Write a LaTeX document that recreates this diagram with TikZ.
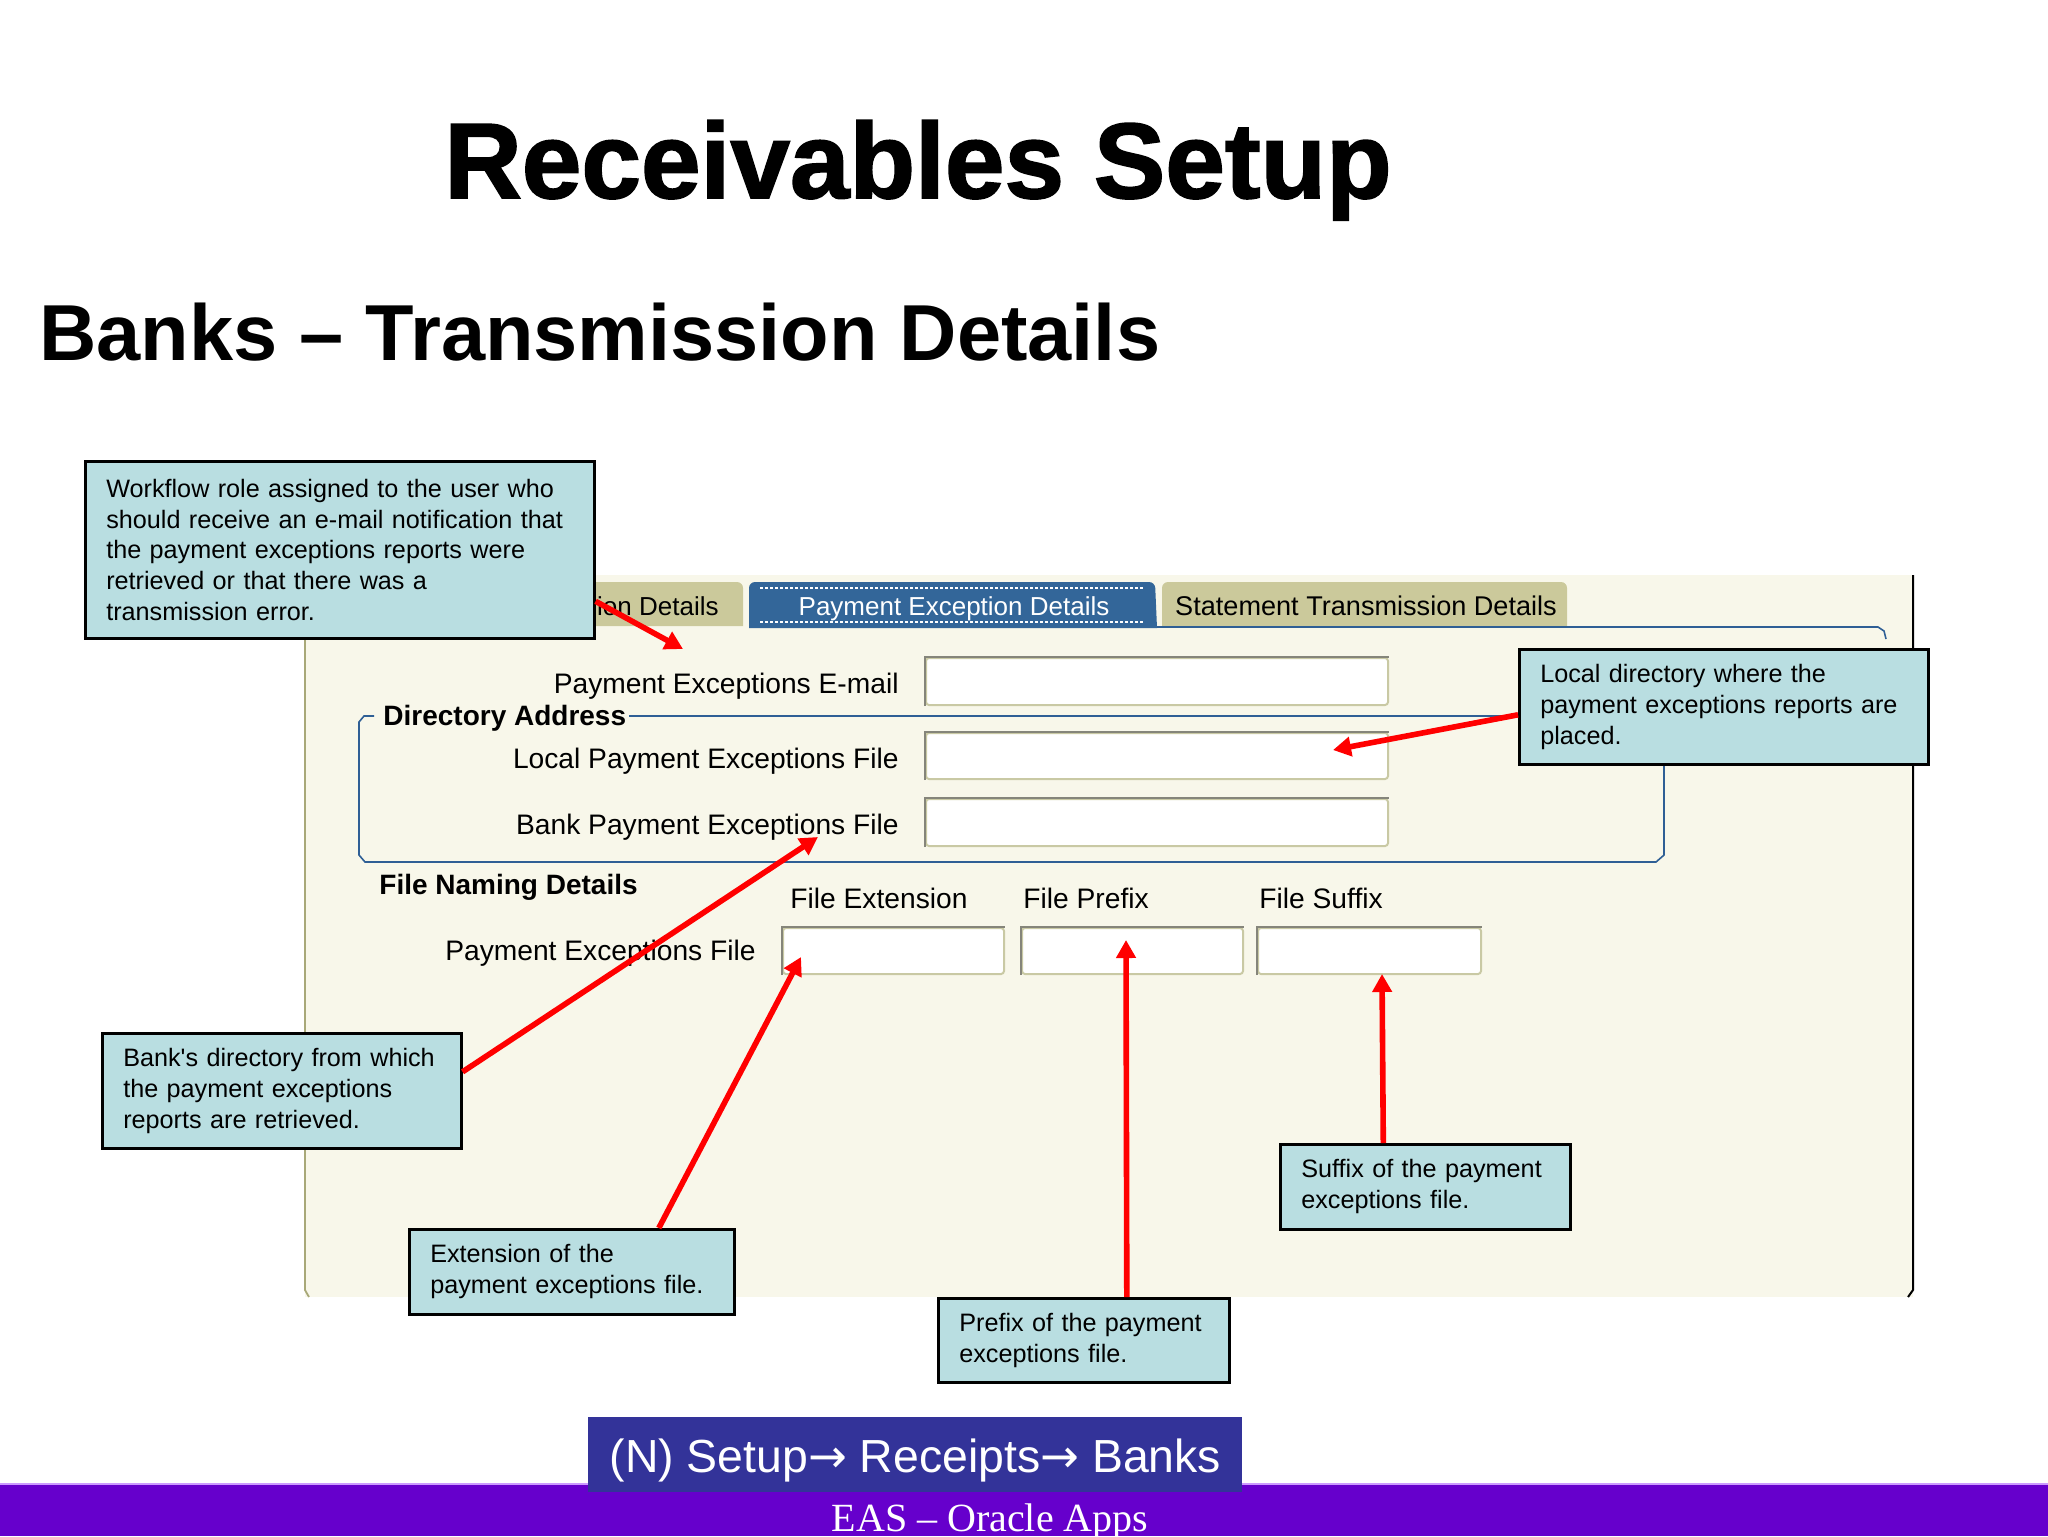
\documentclass[tikz,border=0pt]{standalone}
\usepackage{fontspec}
\setmainfont{Liberation Sans}
\newfontfamily\plainface{Liberation Sans}
\newfontfamily\serifface{Liberation Serif}
\newfontfamily\arrowface{DejaVu Sans}
\newfontfamily\titleface[FakeBold=1.6]{Liberation Sans Bold}
\usetikzlibrary{arrows.meta}
\definecolor{panelfill}{HTML}{F8F7EA}
\definecolor{panelline}{HTML}{A8A878}
\definecolor{calloutfill}{HTML}{B9DEE1}
\definecolor{tabolive}{HTML}{CBC99B}
\definecolor{tabblue}{HTML}{336699}
\definecolor{frameblue}{HTML}{2F5F95}
\definecolor{navblue}{HTML}{333399}
\definecolor{bandpurple}{HTML}{6600CC}
\definecolor{bandline}{HTML}{CC99FF}
\definecolor{fieldline}{HTML}{C9C9A4}
\definecolor{fieldshade}{HTML}{85857A}
\tikzset{
  callout/.style={draw=black,line width=1.3pt,fill=calloutfill,anchor=north west,align=left,
    inner xsep=10.5pt,inner ysep=0pt,font=\fontsize{12.6}{15.35}\selectfont},
  redarrow/.style={draw=red,line width=2.8pt,-{Triangle[length=9pt,width=9.5pt,fill=red]}},
  formlabel/.style={inner sep=0pt,font=\fontsize{14.1}{16}\selectfont},
  tablabel/.style={inner sep=0pt,font=\fontsize{13}{16}\selectfont},
  formhead/.style={inner sep=0pt,font=\fontsize{14}{16}\selectfont\bfseries},
  field/.style={draw=fieldline,line width=1pt,fill=white,rounded corners=1.5pt,anchor=north west,inner sep=0pt},
  frameline/.style={draw=frameblue,line width=0.8pt},
}
\begin{document}
\begin{tikzpicture}[x=0.5pt,y=-0.5pt]
\useasboundingbox (0,0) rectangle (2048,1536);
\fill[white] (0,0) rectangle (2048,1536);
% panel
\fill[panelfill] (305,575) rectangle (1913,1297);
\draw[panelline,line width=0.9pt] (305,620) -- (305,1290) -- (309,1297);
\draw[black,line width=1pt] (1913,575) -- (1913,1290) -- (1908,1297);
% tabs
\fill[tabolive] (560,626) [rounded corners=3pt] -- (560,582) -- (743,582) [sharp corners] -- (743,626) -- cycle;
\fill[tabblue] (749,628) [rounded corners=3pt] -- (749,582) -- (1155,582) [sharp corners] -- (1157,628) -- cycle;
\fill[tabolive] (1162,626) [rounded corners=3pt] -- (1162,582) -- (1567,582) [sharp corners] -- (1567,626) -- cycle;
\draw[white,line width=1.1pt,dash pattern=on 1.5pt off 1pt] (760,588) -- (1143,588);
\draw[white,line width=1.1pt,dash pattern=on 1.5pt off 1pt] (760,622) -- (1143,622);
\node[tablabel,anchor=base east] (tabone) at (719,615) {ion Details};
\node[tablabel,anchor=base,text=white] (tabtwo) at (954,615) {Payment Exception Details};
\node[tablabel,anchor=base,font=\fontsize{13.55}{16}\selectfont] (tabthree) at (1366,615) {Statement Transmission Details};
\draw[frameline] (1157,627) -- (1878,627) -- (1884,631) -- (1886,639);
% directory frame
\draw[frameline] (374,716) -- (364,716) -- (359,722) -- (359,855) -- (365,862) -- (1656,862) -- (1664,855) -- (1664,716) -- (629,716);
\node[formhead,anchor=base west] (dirhead) at (383,725) {Directory Address};
\node[formhead,anchor=base west] (filehead) at (379,894) {File Naming Details};
% labels
\node[formlabel,anchor=base east] (lblmail) at (899,693) {Payment Exceptions E-mail};
\node[formlabel,anchor=base east] (lbllocal) at (899,768) {Local Payment Exceptions File};
\node[formlabel,anchor=base east] (lblbank) at (899,834) {Bank Payment Exceptions File};
\node[formlabel,anchor=base east] (lblfile) at (756,960) {Payment Exceptions File};
\node[formlabel,anchor=base west] (lblext) at (790,908) {File Extension};
\node[formlabel,anchor=base west] (lblpre) at (1023,908) {File Prefix};
\node[formlabel,anchor=base west] (lblsuf) at (1259,908) {File Suffix};
% fields
\node[field,minimum width=231pt,minimum height=23.5pt] (fmail) at (925,657) {};
\node[field,minimum width=231pt,minimum height=23pt] (flocal) at (925,732) {};
\node[field,minimum width=231pt,minimum height=23.5pt] (fbank) at (925,798) {};
\node[field,minimum width=110.5pt,minimum height=23pt] (fext) at (782,927) {};
\node[field,minimum width=110.5pt,minimum height=23pt] (fpre) at (1021,927) {};
\node[field,minimum width=111.5pt,minimum height=23pt] (fsuf) at (1257,927) {};
\foreach \f in {fmail,flocal,fbank,fext,fpre,fsuf}{
  \draw[fieldshade,line width=1pt] (\f.south west) -- (\f.north west) -- (\f.north east);
}
% callouts
\node[callout,minimum width=254.5pt,minimum height=88.5pt,text width=233.5pt] (cmail) at (84,460)
 {Workflow role assigned to the user who\\should receive an e-mail notification that\\the payment exceptions reports were\\retrieved or that there was a\\transmission error.};
\node[callout,minimum width=204.5pt,minimum height=57.5pt,text width=183.5pt] (clocal) at (1518,648)
 {Local directory where the\\payment exceptions reports are\\placed.};
\node[callout,minimum width=179.5pt,minimum height=57.5pt,text width=158.5pt] (cbank) at (101,1032)
 {{\plainface Bank's} directory from which\\the payment exceptions\\reports are retrieved.};
\node[callout,minimum width=162.5pt,minimum height=42.5pt,text width=141.5pt] (cext) at (408,1228)
 {Extension of the\\payment exceptions file.};
\node[callout,minimum width=145.5pt,minimum height=42pt,text width=124.5pt] (cpre) at (937,1297)
 {Prefix of the payment\\exceptions file.};
\node[callout,minimum width=145pt,minimum height=42.5pt,text width=124pt] (csuf) at (1279,1143)
 {Suffix of the payment\\exceptions file.};
% arrow targets
\coordinate (tmail) at (683,649);
\coordinate (tlocal) at (1333,750);
\coordinate (tbank) at (818,837);
\coordinate (text) at (801,957);
\coordinate (tpre) at (1126,940);
\coordinate (tsuf) at (1382,974);
\draw[redarrow] ([yshift=-25.75pt]cmail.east) -- (tmail);
\draw[redarrow] ([yshift=-4pt]clocal.west) -- (tlocal);
\draw[redarrow] ([yshift=9.5pt]cbank.east) -- (tbank);
\draw[redarrow] ([xshift=43.5pt]cext.north) -- (text);
\draw[redarrow] ([xshift=21.5pt]cpre.north) -- (tpre);
\draw[redarrow] ([xshift=-21pt]csuf.north) -- (tsuf);
% titles
\node[inner sep=0pt,anchor=base west,font=\fontsize{53.6}{60}\selectfont\titleface] (title) at (444,198) {Receivables Setup};
\node[inner sep=0pt,anchor=base west,font=\fontsize{39.7}{44}\selectfont\bfseries] (subtitle) at (39,360) {Banks – Transmission Details};
% footer
\fill[bandpurple] (0,1484) rectangle (2048,1536);
\draw[bandline,line width=0.6pt] (0,1484) -- (2048,1484);
\node[fill=navblue,inner sep=0pt,anchor=north west,minimum width=327pt,minimum height=37.5pt,text=white,font=\fontsize{23.2}{28}\selectfont] (nav) at (588,1417) {\raisebox{-9pt}[0pt][0pt]{(N) Setup{\arrowface→} Receipts{\arrowface→} Banks}};
\node[inner sep=0pt,anchor=base,text=white,font=\fontsize{20}{24}\selectfont\serifface] (foot) at (990,1531) {EAS – Oracle Apps};
\end{tikzpicture}
\end{document}
